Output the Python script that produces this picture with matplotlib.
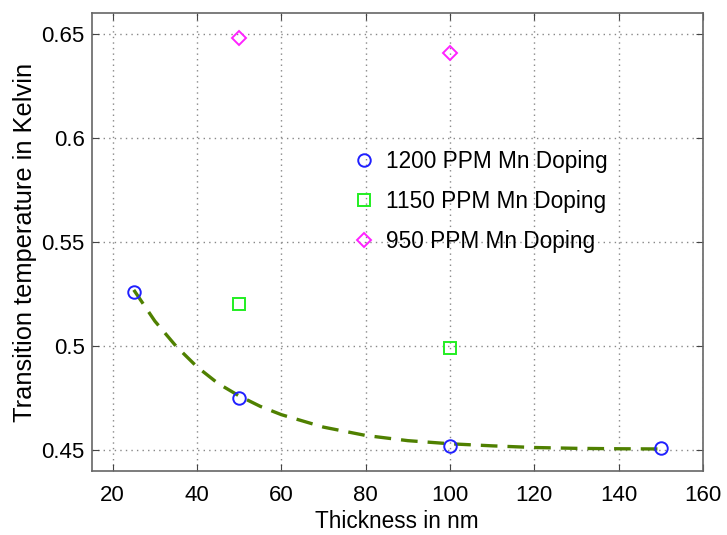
import matplotlib
matplotlib.use("Agg")
import matplotlib.pyplot as plt

plt.rcParams["font.family"] = ["Liberation Sans", "DejaVu Sans"]

# measured points
x_1200 = [25, 50, 100, 150]
y_1200 = [0.526, 0.475, 0.452, 0.451]
x_1150 = [50, 100]
y_1150 = [0.520, 0.499]
x_950 = [50, 100]
y_950 = [0.648, 0.641]

# fitted trend curve
x_fit = [25, 30, 35, 40, 45, 50, 55, 60, 65, 70, 75, 80, 90, 100, 110, 120, 130, 140, 150]
y_fit = [0.527, 0.512, 0.500, 0.490, 0.482, 0.476, 0.471, 0.467, 0.464, 0.461,
         0.459, 0.457, 0.4545, 0.453, 0.452, 0.4512, 0.4508, 0.4506, 0.4505]

x_ticks = [20, 40, 60, 80, 100, 120, 140, 160]
y_ticks = [0.45, 0.5, 0.55, 0.6, 0.65]
y_ticklabels = ["0.45", "0.5", "0.55", "0.6", "0.65"]

fig = plt.figure(figsize=(7.27, 5.35), dpi=100)
ax = fig.add_axes([0.126, 0.120, 0.841, 0.855])

ax.plot(x_fit, y_fit, linestyle=(0, (5, 3)), color="#4f8000", linewidth=2.4, zorder=2)
ax.plot(x_1200, y_1200, "o", mfc="none", mec="#2020ff", mew=1.4, ms=9,
        label="1200 PPM Mn Doping", zorder=3)
ax.plot(x_1150, y_1150, "s", mfc="none", mec="#22ee22", mew=1.4, ms=8,
        label="1150 PPM Mn Doping", zorder=3)
ax.plot(x_950, y_950, "D", mfc="none", mec="#ff22ff", mew=1.4, ms=7,
        label="950 PPM Mn Doping", zorder=3)

ax.set_xlim(15, 160)
ax.set_ylim(0.44, 0.66)
ax.set_xticks(x_ticks)
ax.set_yticks(y_ticks)
ax.set_yticklabels(y_ticklabels)
# matlab-style box: inward ticks on all four sides
ax.tick_params(direction="in", length=5, labelsize=16, color="#444444",
               top=True, right=True)
ax.tick_params(axis="x", pad=10)
ax.tick_params(axis="y", pad=5)
ax.grid(True, linestyle=(0, (1, 3)), color="#888888", linewidth=1)
for s in ax.spines.values():
    s.set_color("#666666")
    s.set_linewidth(1.2)

ax.set_xlabel("Thickness in nm", fontsize=16.3, labelpad=3)
ax.set_ylabel("Transition temperature in Kelvin", fontsize=18.3, labelpad=3)

ax.legend(loc="upper left", bbox_to_anchor=(0.39, 0.745), frameon=False,
          fontsize=16.3, handletextpad=0.35, labelspacing=0.75, handlelength=1.2)

fig.savefig("out.png", dpi=100)
